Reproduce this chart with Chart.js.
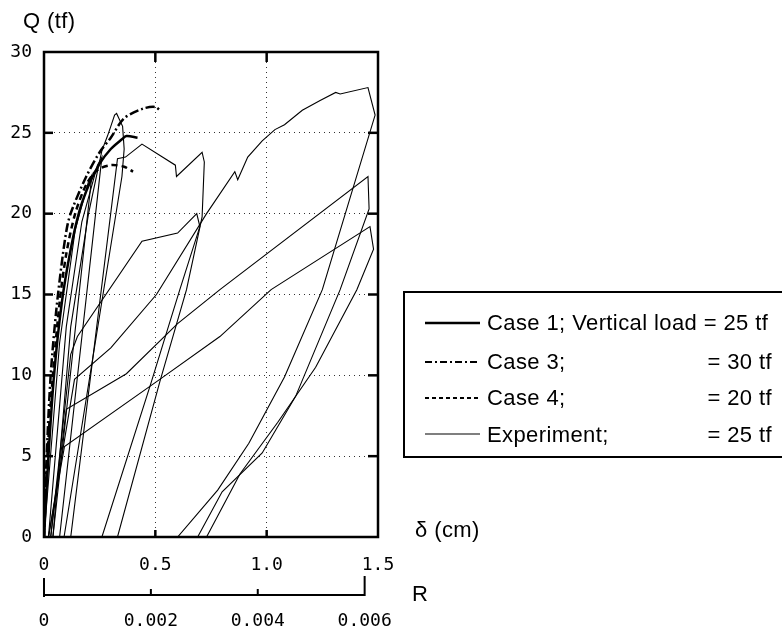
<!DOCTYPE html>
<html>
<head>
<meta charset="utf-8">
<script src="https://cdn.jsdelivr.net/npm/chart.js@4.4.1/dist/chart.umd.min.js"></script>
<style>
  html, body { margin: 0; padding: 0; background: #fff; }
  #wrap { position: relative; width: 782px; height: 635px; overflow: hidden; }
  #chart { position: absolute; left: 0; top: 0; }
  .lbl { position: absolute; font-family: 'Liberation Sans', Arial, sans-serif; font-size: 22px;
         line-height: 22px; color: #000; white-space: nowrap; letter-spacing: 0.4px; }
  #legend { position: absolute; left: 403px; top: 291px; width: 420px; height: 167px;
            border: 2px solid #000; box-sizing: border-box; }
  #legendLines { position: absolute; left: 0; top: 0; }
</style>
</head>
<body>
<div id="wrap">
  <canvas id="chart" width="782" height="635"></canvas>

  <div class="lbl" style="left:23px; top:10px;">Q (tf)</div>
  <div class="lbl" style="left:415px; top:519px;">δ (cm)</div>
  <div class="lbl" style="left:412px; top:583px;">R</div>

  <div id="legend"></div>
  <svg id="legendLines" width="782" height="635">
    <line x1="425" y1="323" x2="480" y2="323" stroke="#000" stroke-width="2.5"/>
    <line x1="425" y1="362" x2="480" y2="362" stroke="#000" stroke-width="2" stroke-dasharray="7 3 2 3"/>
    <line x1="425" y1="398" x2="480" y2="398" stroke="#000" stroke-width="2" stroke-dasharray="4 3"/>
    <line x1="425" y1="434" x2="480" y2="434" stroke="#000" stroke-width="1.2"/>
  </svg>
  <div class="lbl" style="left:487px; top:312px;">Case 1; Vertical load = 25 tf</div>
  <div class="lbl" style="left:487px; top:351px;">Case 3;</div>
  <div class="lbl" style="right:10px; top:351px;">= 30 tf</div>
  <div class="lbl" style="left:487px; top:387px;">Case 4;</div>
  <div class="lbl" style="right:10px; top:387px;">= 20 tf</div>
  <div class="lbl" style="left:487px; top:424px;">Experiment;</div>
  <div class="lbl" style="right:10px; top:424px;">= 25 tf</div>
</div>

<script>
// Q (tf) - delta (cm) curves as [delta, Q] pairs

// Analyses
const case1Curve = [[0, 0], [0.02, 5], [0.045, 10], [0.08, 14.5], [0.12, 17.8], [0.16, 20.2],
  [0.205, 21.9], [0.25, 23.1], [0.3, 24.0], [0.35, 24.6], [0.37, 24.8], [0.42, 24.7]];
const case3Curve = [[0, 0], [0.012, 5], [0.03, 10], [0.055, 14], [0.085, 17.5], [0.107, 19.4],
  [0.13, 20.4], [0.19, 22.3], [0.25, 23.8], [0.3, 24.7], [0.36, 25.9], [0.445, 26.5], [0.5, 26.6], [0.52, 26.4]];
const case4Curve = [[0, 0], [0.015, 5], [0.04, 10], [0.07, 14.5], [0.1, 17.5], [0.14, 20],
  [0.19, 21.8], [0.24, 22.7], [0.3, 23.0], [0.36, 22.9], [0.4, 22.6]];

// Experiment, split into its load / unload branches
const expSmall1 = [[0, 0], [0.07, 12], [0.14, 19], [0.2, 22], [0.215, 22.4], [0.04, 0]];
const expSmall2 = [[0.02, 0], [0.1, 13], [0.17, 19.5], [0.24, 23], [0.26, 23.5], [0.07, 0]];
const expSpike = [[0.04, 0], [0.12, 13], [0.2, 20], [0.26, 23.9], [0.285, 24.8], [0.3, 25.4],
  [0.317, 26.1], [0.326, 26.2], [0.353, 25.4], [0.36, 24.0], [0.35, 22.3], [0.09, 0]];
const expJagged = [[0.12, 0], [0.33, 23.4], [0.366, 23.5], [0.44, 24.3], [0.59, 23.0], [0.595, 22.3],
  [0.71, 23.8], [0.72, 23.2], [0.71, 19.8], [0.64, 15.3], [0.52, 9.6], [0.33, 0]];
const expKnee = [[0.03, 0], [0.12, 11.3], [0.15, 12.4], [0.44, 18.3], [0.6, 18.8], [0.686, 20],
  [0.7, 19.2], [0.61, 15.3], [0.48, 9.5], [0.26, 0]];
const expBigLoop = [[0.02, 0], [0.137, 9.75], [0.3, 11.7], [0.505, 15.0], [0.73, 20.0], [0.857, 22.6],
  [0.87, 22.1], [0.915, 23.5], [0.98, 24.5], [1.037, 25.2], [1.08, 25.5], [1.16, 26.4], [1.24, 27.0],
  [1.31, 27.5], [1.33, 27.4], [1.455, 27.8], [1.487, 26.1], [1.25, 15.3], [1.08, 9.9], [0.92, 5.8],
  [0.78, 2.9], [0.6, 0]];
const expLoop2 = [[0.03, 0], [0.1, 7.9], [0.37, 10.1], [0.6, 13.2], [0.79, 15.3], [1.455, 22.3],
  [1.46, 20.3], [1.33, 15.3], [1.13, 8.7], [0.98, 5.2], [0.8, 2.8], [0.69, 0]];
const expLoop3 = [[0.02, 0], [0.092, 5.6], [0.52, 9.75], [0.79, 12.4], [1.02, 15.3], [1.464, 19.2],
  [1.48, 17.8], [1.405, 15.3], [1.22, 10.5], [1.05, 7.1], [0.88, 3.9], [0.73, 0]];

const experimentBranches = [expSmall1, expSmall2, expSpike, expJagged, expKnee, expBigLoop, expLoop2, expLoop3];

// Axes
const deltaTicks = [0, 0.5, 1.0, 1.5];
const qTicks = [0, 5, 10, 15, 20, 25, 30];
const rTicks = [0, 0.002, 0.004, 0.006];
const storyHeight = 240; // cm, R = delta / h

const tickFont = { family: "'DejaVu Sans Mono', monospace", size: 18 };

function toPoints(pairs) {
  return pairs.map(p => ({ x: p[0], y: p[1] }));
}

const datasets = [
  { label: 'Case 1', data: toPoints(case1Curve), borderColor: '#000', borderWidth: 2.5, tension: 0.3 },
  { label: 'Case 3', data: toPoints(case3Curve), borderColor: '#000', borderWidth: 2.5, borderDash: [9, 3, 2, 3], tension: 0.3 },
  { label: 'Case 4', data: toPoints(case4Curve), borderColor: '#000', borderWidth: 2.5, borderDash: [6, 4], tension: 0.3 }
];
experimentBranches.forEach(function(branch, i) {
  datasets.push({ label: 'Experiment ' + (i + 1), data: toPoints(branch), borderColor: '#000', borderWidth: 1.1, tension: 0 });
});

// Frame with inward tick marks, and the bracket of the R axis
const framePlugin = {
  id: 'frame',
  afterDatasetsDraw(chart) {
    const { ctx, chartArea: a, scales } = chart;
    ctx.save();
    ctx.strokeStyle = '#000';
    ctx.lineCap = 'butt';
    function seg(x1, y1, x2, y2) {
      ctx.beginPath(); ctx.moveTo(x1, y1); ctx.lineTo(x2, y2); ctx.stroke();
    }
    ctx.lineWidth = 2.5;
    ctx.strokeRect(a.left, a.top, a.right - a.left, a.bottom - a.top);

    scales.y.ticks.forEach(t => {
      if (t.value <= scales.y.min || t.value >= scales.y.max) return;
      const py = scales.y.getPixelForValue(t.value);
      seg(a.left, py, a.left + 9, py);
      seg(a.right - 10, py, a.right, py);
    });
    scales.x.ticks.forEach(t => {
      if (t.value <= scales.x.min || t.value >= scales.x.max) return;
      const px = scales.x.getPixelForValue(t.value);
      seg(px, a.top, px, a.top + 10);
      seg(px, a.bottom - 7, px, a.bottom);
    });

    const r = scales.xR;
    const by = r.top + 18;
    const first = r.getPixelForValue(r.ticks[0].value);
    const last = r.getPixelForValue(r.ticks[r.ticks.length - 1].value);
    ctx.lineWidth = 2;
    ctx.beginPath();
    ctx.moveTo(first, r.top + 1);
    ctx.lineTo(first, by + 2);
    ctx.lineTo(first, by);
    ctx.lineTo(last, by);
    ctx.lineTo(last, r.top - 1);
    ctx.stroke();
    r.ticks.slice(1, -1).forEach(t => {
      const px = r.getPixelForValue(t.value);
      seg(px, by, px, by - 6);
    });
    ctx.restore();
  }
};

const gridColor = function(ctx) {
  const s = ctx.scale;
  if (!ctx.tick || ctx.tick.value <= s.min || ctx.tick.value >= s.max) return 'rgba(0,0,0,0)';
  return '#333';
};

new Chart(document.getElementById('chart'), {
  type: 'line',
  data: { datasets: datasets },
  options: {
    responsive: false,
    devicePixelRatio: 1,
    animation: false,
    elements: { point: { radius: 0 }, line: { fill: false } },
    layout: { padding: { top: 52, right: 404, left: 0, bottom: 0 } },
    plugins: { legend: { display: false }, tooltip: { enabled: false } },
    scales: {
      x: {
        type: 'linear',
        axis: 'x',
        position: 'bottom',
        weight: 0,
        min: deltaTicks[0],
        max: deltaTicks[deltaTicks.length - 1],
        afterBuildTicks: s => { s.ticks = deltaTicks.map(v => ({ value: v })); },
        afterFit: s => { s.height = 40; },
        ticks: {
          color: '#000', font: tickFont, padding: 18, maxRotation: 0,
          callback: v => (v === 0 ? '0' : v.toFixed(1))
        },
        grid: { color: gridColor, lineWidth: 1, drawTicks: false },
        border: { display: false, dash: [1, 4] }
      },
      xR: {
        type: 'linear',
        axis: 'x',
        position: 'bottom',
        weight: 1,
        min: 0,
        max: deltaTicks[deltaTicks.length - 1] / storyHeight,
        afterBuildTicks: s => { s.ticks = rTicks.map(v => ({ value: v })); },
        afterFit: s => { s.height = 58; },
        ticks: {
          color: '#000', font: tickFont, padding: 34, maxRotation: 0,
          callback: v => (v === 0 ? '0' : v.toFixed(3))
        },
        grid: { display: false, drawTicks: false },
        border: { display: false }
      },
      y: {
        type: 'linear',
        axis: 'y',
        min: qTicks[0],
        max: qTicks[qTicks.length - 1],
        afterBuildTicks: s => { s.ticks = qTicks.map(v => ({ value: v })); },
        afterFit: s => { s.width = 44; },
        ticks: { color: '#000', font: tickFont, padding: 12 },
        grid: { color: gridColor, lineWidth: 1, drawTicks: false },
        border: { display: false, dash: [1, 4] }
      }
    }
  },
  plugins: [framePlugin]
});
</script>
</body>
</html>
